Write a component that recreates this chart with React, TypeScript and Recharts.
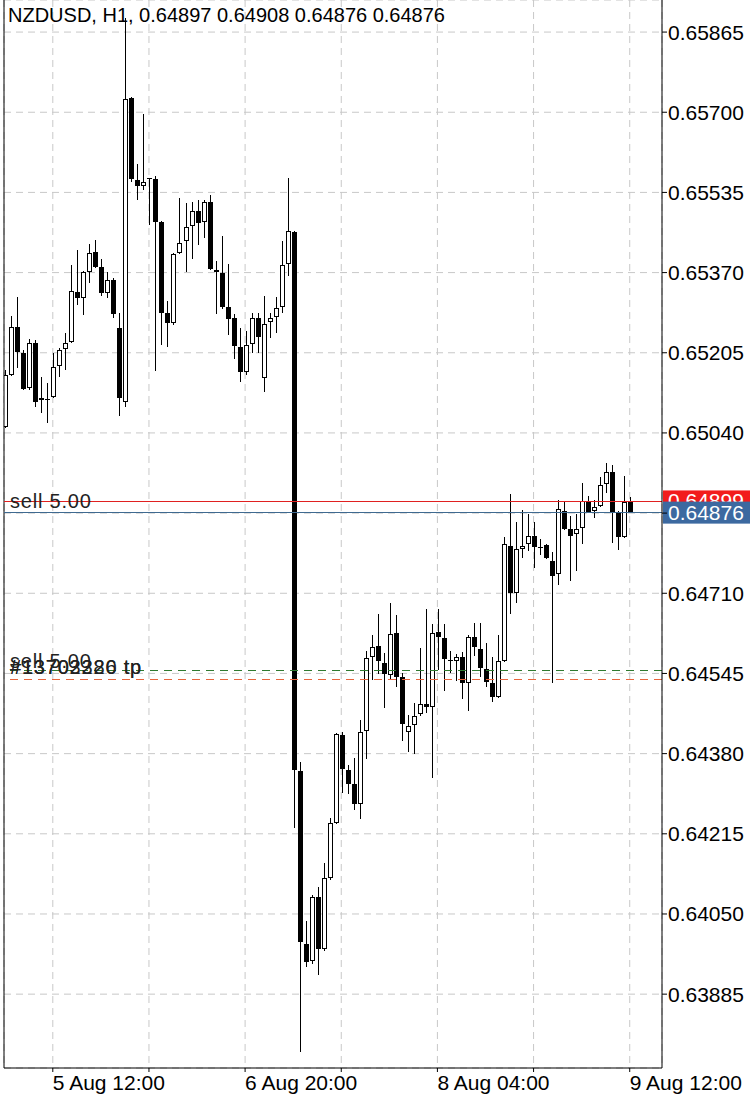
import React from 'react';
import { Bar, CartesianGrid, ComposedChart, ReferenceLine, XAxis, YAxis } from 'recharts';

const FONT = '"Liberation Sans", Arial, sans-serif';

// NZDUSD H1, 5 Aug 04:00 .. 9 Aug 12:00 (one entry per bar)
const opens = [
    0.65052, 0.65159, 0.65258, 0.65205, 0.65133, 0.65225, 0.65112, 0.65108, 0.65114, 0.65178,
    0.65213, 0.65227, 0.6533, 0.65318, 0.65371, 0.65412, 0.65382, 0.65328, 0.65355, 0.65256,
    0.65104, 0.65729, 0.65561, 0.65548, 0.65563, 0.65563, 0.65474, 0.65287, 0.65266, 0.6541,
    0.65435, 0.65466, 0.65497, 0.65474, 0.65515, 0.65375, 0.65369, 0.65299, 0.65277, 0.65217,
    0.65165, 0.65223, 0.65277, 0.65153, 0.65268, 0.65279, 0.65299, 0.65388, 0.65454, 0.64344,
    0.63988, 0.63953, 0.64085, 0.63978, 0.64124, 0.64237, 0.64418, 0.64346, 0.64318, 0.64276,
    0.64427, 0.64579, 0.64602, 0.64567, 0.64542, 0.64628, 0.64538, 0.64425, 0.64439, 0.64462,
    0.64482, 0.64476, 0.6463, 0.64618, 0.64573, 0.64571, 0.64579, 0.64525, 0.6462, 0.64595,
    0.64554, 0.64525, 0.64497, 0.64571, 0.64807, 0.64711, 0.64801, 0.64811, 0.64828, 0.64806,
    0.64809, 0.64776, 0.6475, 0.64879, 0.64842, 0.64832, 0.64844, 0.649, 0.64879, 0.6489,
    0.64935, 0.6496, 0.64877, 0.64826, 0.64897,
];
const highs = [
    0.6517, 0.65281, 0.6532, 0.65211, 0.65233, 0.65231, 0.65155, 0.65143, 0.65205, 0.65215,
    0.65246, 0.65386, 0.65416, 0.65373, 0.65429, 0.65437, 0.65398, 0.65371, 0.65359, 0.65287,
    0.65894, 0.65731, 0.65593, 0.65696, 0.65565, 0.65569, 0.65476, 0.65312, 0.6541, 0.65524,
    0.65513, 0.65515, 0.65519, 0.65519, 0.6553, 0.65394, 0.65445, 0.65388, 0.65285, 0.65256,
    0.6525, 0.65287, 0.65287, 0.65322, 0.65287, 0.6532, 0.65435, 0.65565, 0.65456, 0.64363,
    0.64036, 0.64089, 0.64106, 0.64155, 0.64248, 0.64423, 0.64425, 0.64357, 0.64371, 0.64449,
    0.64591, 0.64624, 0.64667, 0.64587, 0.6469, 0.64665, 0.64546, 0.6446, 0.64484, 0.64597,
    0.64678, 0.64647, 0.64678, 0.64647, 0.64591, 0.64585, 0.64589, 0.64624, 0.64649, 0.64649,
    0.64608, 0.64579, 0.64624, 0.64826, 0.64914, 0.64857, 0.64881, 0.64873, 0.64857, 0.64822,
    0.64811, 0.64795, 0.64902, 0.649, 0.64869, 0.64873, 0.64937, 0.6491, 0.64902, 0.64949,
    0.64978, 0.64974, 0.64879, 0.64951, 0.64908,
];
const lows = [
    0.6505, 0.65157, 0.65174, 0.65128, 0.65128, 0.65093, 0.65081, 0.6506, 0.65112, 0.65155,
    0.6517, 0.65225, 0.65303, 0.65283, 0.65349, 0.65379, 0.65322, 0.65318, 0.65277, 0.65075,
    0.65093, 0.65556, 0.65519, 0.6554, 0.65468, 0.65167, 0.65221, 0.65217, 0.65262, 0.65408,
    0.65371, 0.65398, 0.65427, 0.65441, 0.65375, 0.65285, 0.65295, 0.65242, 0.65192, 0.65145,
    0.65159, 0.65205, 0.65205, 0.65124, 0.65235, 0.65246, 0.65287, 0.65363, 0.64227, 0.63766,
    0.63941, 0.63947, 0.63924, 0.63974, 0.6412, 0.64235, 0.64299, 0.64297, 0.64264, 0.64246,
    0.64369, 0.64532, 0.64544, 0.64474, 0.64534, 0.64517, 0.64406, 0.64383, 0.64379, 0.64457,
    0.64464, 0.6433, 0.64552, 0.64509, 0.64546, 0.6453, 0.64492, 0.64468, 0.64581, 0.64538,
    0.64517, 0.64486, 0.64495, 0.64569, 0.64667, 0.6469, 0.64783, 0.64797, 0.64762, 0.64789,
    0.64781, 0.64525, 0.64727, 0.6484, 0.64735, 0.64756, 0.64811, 0.64875, 0.64865, 0.64888,
    0.64916, 0.64813, 0.64799, 0.64824, 0.64876,
];
const closes = [
    0.65159, 0.65258, 0.65207, 0.6513, 0.65225, 0.65104, 0.65108, 0.6511, 0.65176, 0.65211,
    0.65225, 0.65332, 0.65318, 0.65371, 0.6541, 0.65382, 0.65328, 0.65355, 0.65285, 0.65112,
    0.65727, 0.65563, 0.65548, 0.65556, 0.65564, 0.65474, 0.65287, 0.65266, 0.65408, 0.65431,
    0.65464, 0.65497, 0.65472, 0.65515, 0.65377, 0.65371, 0.65299, 0.65274, 0.65219, 0.65165,
    0.65221, 0.65277, 0.65237, 0.65264, 0.65277, 0.65297, 0.65386, 0.65456, 0.64346, 0.63992,
    0.63951, 0.64085, 0.63978, 0.64124, 0.64237, 0.6442, 0.64348, 0.64318, 0.64276, 0.64425,
    0.64577, 0.64599, 0.64571, 0.64544, 0.64626, 0.64538, 0.64441, 0.64437, 0.64457, 0.64482,
    0.64476, 0.64628, 0.6462, 0.64575, 0.64571, 0.64579, 0.64525, 0.6462, 0.64599, 0.64556,
    0.64527, 0.64497, 0.64571, 0.64811, 0.64711, 0.64801, 0.64807, 0.64828, 0.64805, 0.64804,
    0.64783, 0.64746, 0.64883, 0.64842, 0.64828, 0.64842, 0.649, 0.64877, 0.64888, 0.64933,
    0.6496, 0.64877, 0.64826, 0.64898, 0.64876,
];

const priceTicks = [
    0.63885, 0.6405, 0.64215, 0.6438, 0.64545, 0.6471, 0.64875, 0.6504, 0.65205, 0.6537,
    0.65535, 0.657, 0.65865,
];
const gridBars = [8, 24, 40, 56, 72, 88, 104];
const labelBars = [8, 40, 72, 104];
const timeLabels = ['5 Aug 12:00', '6 Aug 20:00', '8 Aug 04:00', '9 Aug 12:00'];

const sellPrice = 0.64899;
const bidPrice = 0.64876;
const tpLevel = 0.64551;
const orderLevel = 0.64533;

const xDomain = [-0.12, 109.37];
const yDomain = [0.63733, 0.65931];

const candles = opens.map((open, i) => ({
    i,
    open,
    high: highs[i],
    low: lows[i],
    close: closes[i],
}));

function Candle(props: any) {
    const { x, y, width, height, payload } = props;
    const { open, high, low, close } = payload;
    const top = Math.min(y, y + height);
    const h = Math.abs(height);
    const k = h / (high - low);
    const yOf = (p: number) => top + (high - p) * k;
    const c = Math.round(x + width / 2);
    const bodyTop = Math.round(yOf(Math.max(open, close)));
    const bodyBot = Math.round(yOf(Math.min(open, close)));
    const bull = close > open;
    return (
        <g shapeRendering="crispEdges">
            <line x1={c + 0.5} x2={c + 0.5} y1={top} y2={top + h} stroke="#000" strokeWidth={1} />
            {bodyBot - bodyTop < 2 ? (
                <rect x={c - 2} y={bodyTop} width={5} height={1} fill="#000" />
            ) : bull ? (
                <rect
                    x={c - 1.5}
                    y={bodyTop + 0.5}
                    width={4}
                    height={bodyBot - bodyTop - 1}
                    fill="#fff"
                    stroke="#000"
                    strokeWidth={1}
                />
            ) : (
                <rect x={c - 2} y={bodyTop} width={5} height={bodyBot - bodyTop} fill="#000" />
            )}
        </g>
    );
}

function TimeTick(props: any) {
    const { x, y, payload } = props;
    const k = labelBars.indexOf(payload.value);
    if (k < 0) return <g />;
    return (
        <text x={x} y={y + 16} fontSize={21} fill="#000" textAnchor="start" fontFamily={FONT}>
            {timeLabels[k]}
        </text>
    );
}

function priceTag(fill: string, text: string, left: string[], leftDy: number[]) {
    return (props: any) => {
        const vb = props.viewBox;
        const ly = vb.y;
        return (
            <g>
                {left.map((t, j) => (
                    <text
                        key={j}
                        x={vb.x + 6}
                        y={ly + leftDy[j]}
                        fontSize={20}
                        letterSpacing={0.8}
                        fill="#222"
                        fontFamily={FONT}
                    >
                        {t}
                    </text>
                ))}
                {fill && (
                    <g>
                        <rect x={vb.x + vb.width + 1} y={ly - 11} width={90} height={22} fill={fill} />
                        <text
                            x={vb.x + vb.width + 6}
                            y={ly + 7}
                            fontSize={21}
                            fill="#fff"
                            fontFamily={FONT}
                        >
                            {text}
                        </text>
                    </g>
                )}
            </g>
        );
    };
}

export default function App() {
    return (
        <div
            style={{
                position: 'absolute',
                left: 0,
                top: 0,
                width: 750,
                height: 1104,
                background: '#fff',
                fontFamily: FONT,
            }}
        >
            <ComposedChart
                width={750}
                height={1104}
                data={candles}
                margin={{ top: 0, right: 0, bottom: 0, left: 4 }}
            >
                <CartesianGrid stroke="#c8c8c8" strokeDasharray="7 5" />
                <XAxis
                    dataKey="i"
                    type="number"
                    domain={xDomain}
                    ticks={gridBars}
                    interval={0}
                    allowDataOverflow
                    height={36}
                    axisLine={{ stroke: '#000' }}
                    tickLine={{ stroke: '#000' }}
                    tickSize={4}
                    tick={<TimeTick />}
                />
                <YAxis
                    orientation="right"
                    type="number"
                    domain={yDomain}
                    allowDataOverflow
                    ticks={priceTicks}
                    interval={0}
                    width={88}
                    axisLine={{ stroke: '#000' }}
                    tickLine={{ stroke: '#000' }}
                    tickSize={5}
                    tickMargin={1}
                    tick={{ fill: '#000', fontSize: 21, fontFamily: FONT }}
                    tickFormatter={(v: number) => (v === 0.64875 ? '' : v.toFixed(5))}
                />
                <ReferenceLine x={xDomain[0]} stroke="#000" />
                <Bar
                    dataKey={(d: any) => [d.low, d.high]}
                    barSize={5}
                    shape={Candle}
                    isAnimationActive={false}
                />
                <ReferenceLine
                    y={tpLevel}
                    stroke="#2f7a2f"
                    strokeDasharray="8 6"
                    shapeRendering="crispEdges"
                    label={priceTag('', '', ['sell 5.00', '#13703326 tp', '#13702280 tp'], [-3, 3, 3])}
                />
                <ReferenceLine
                    y={orderLevel}
                    stroke="#e8643c"
                    strokeDasharray="8 6"
                    shapeRendering="crispEdges"
                />
                <ReferenceLine
                    y={sellPrice}
                    stroke="#e02020"
                    shapeRendering="crispEdges"
                    label={priceTag('#f21c1c', sellPrice.toFixed(5), ['sell 5.00'], [7])}
                />
                <ReferenceLine
                    y={bidPrice}
                    stroke="#3f6a90"
                    shapeRendering="crispEdges"
                    label={priceTag('#3c69a0', bidPrice.toFixed(5), [], [])}
                />
            </ComposedChart>
            <div
                style={{
                    position: 'absolute',
                    left: 8,
                    top: 4,
                    fontSize: 20,
                    color: '#000',
                    whiteSpace: 'nowrap',
                }}
            >
                NZDUSD, H1, 0.64897 0.64908 0.64876 0.64876
            </div>
        </div>
    );
}
